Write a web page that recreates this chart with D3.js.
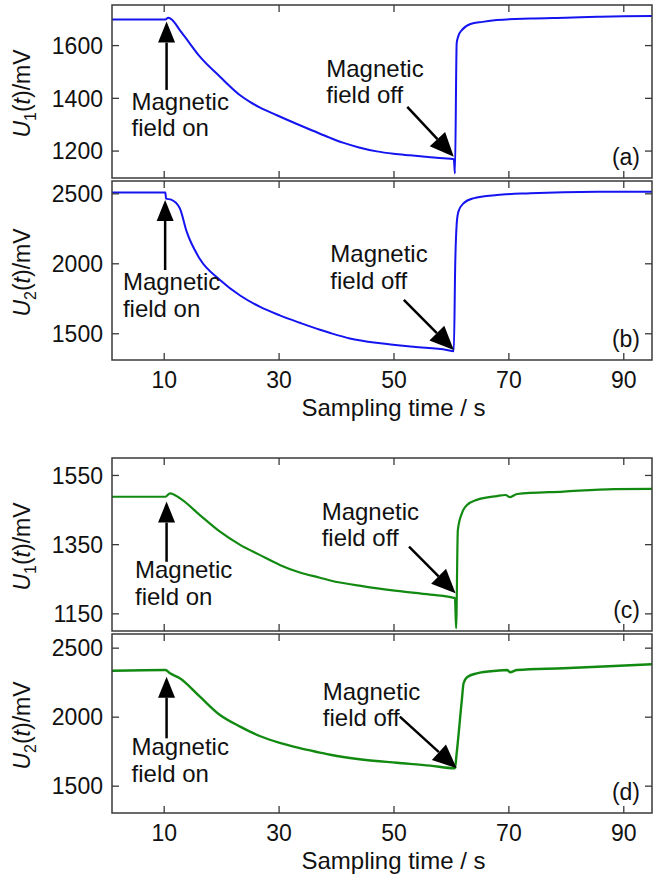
<!DOCTYPE html>
<html>
<head>
<meta charset="utf-8">
<script src="https://cdn.jsdelivr.net/npm/d3@7"></script>
<style>
  body { margin: 0; background: #fff; }
  text { font-family: "Liberation Sans", Arial, sans-serif; fill: #111; }
</style>
</head>
<body>
<svg id="chart" width="658" height="877"></svg>
<script>
// values: sampling time (s) and voltage (mV)
const tA = [1, 10.3, 10.8, 11.5, 12.8, 13.7, 16.3, 19.8, 23.3, 25, 26.7, 29.7, 33.7, 36, 39, 41.2, 44, 47.1, 50, 52.9, 56, 58.7, 60.5, 60.7, 61.0, 61.3, 61.9, 63.4, 65.5, 68, 73.8, 80, 85.5, 90, 95]
const uA = [1697, 1697, 1704, 1695, 1657, 1631, 1556, 1480, 1410, 1385, 1364, 1334, 1296, 1275, 1248, 1230, 1212, 1197, 1188, 1182, 1176, 1171, 1167, 1113, 1607, 1635, 1657, 1680, 1688, 1695, 1701, 1704, 1707, 1709, 1710]

const tB = [1, 10.3, 10.4, 11.3, 12.8, 14, 16.3, 19.8, 23.3, 26.7, 30.2, 33.7, 37.2, 39, 42.4, 47.7, 53.5, 59.3, 60.5, 60.75, 61.0, 61.3, 62.2, 63.9, 68, 73.8, 85.5, 95]
const uB = [2505, 2505, 2462, 2455, 2393, 2226, 2030, 1881, 1770, 1690, 1628, 1575, 1525, 1502, 1463, 1428, 1403, 1381, 1372, 2000, 2280, 2369, 2429, 2464, 2488, 2500, 2511, 2512]

const tC = [1, 10.3, 11.1, 12.8, 16.3, 19.8, 23.3, 26.7, 30.2, 33.7, 37.2, 39, 44.8, 50.6, 56.4, 60.7, 60.9, 61.2, 61.9, 62.8, 64.5, 68, 69.5, 70.3, 71.5, 79.6, 88.4, 95]
const uC = [1487, 1487, 1497, 1483, 1434, 1386, 1348, 1319, 1290, 1268, 1253, 1245, 1228, 1215, 1204, 1194, 1107, 1390, 1439, 1463, 1478, 1489, 1492, 1486, 1495, 1502, 1509, 1510]

const tD = [1, 10.3, 11.1, 12.8, 16.3, 19.8, 23.3, 26.7, 30.2, 33.7, 37.2, 39, 44.8, 50.6, 56.4, 60.7, 61.0, 61.9, 62.2, 62.8, 64.5, 68, 69.8, 70.3, 71.5, 79.6, 88.4, 95]
const uD = [2333, 2338, 2314, 2278, 2145, 2012, 1928, 1860, 1810, 1772, 1740, 1724, 1688, 1666, 1645, 1626, 1735, 2121, 2242, 2286, 2314, 2333, 2338, 2322, 2338, 2351, 2367, 2380]

// tick labels
const xTicks = [10, 30, 50, 70, 90]
const yTicksA = [1200, 1400, 1600]
const yTicksB = [1500, 2000, 2500]
const yTicksC = [1150, 1350, 1550]
const yTicksD = [1500, 2000, 2500]

const panelNames = ['(a)', '(b)', '(c)', '(d)']
const onText = ['Magnetic', 'field on']
const offText = ['Magnetic', 'field off']
const xTitle = 'Sampling time / s'

const blue = '#1414f0'
const green = '#128a12'
const axisColor = '#3a3a3a'

const svg = d3.select('#chart')

var x = d3.scaleLinear()
    .domain([1, 95])
    .range([112, 652])

// panel layout (positions in data units where they point at the curve)
var panels = [
    {t: tA, u: uA, ticks: yTicksA, domain: [1096, 1752], top: 5, bottom: 178, color: blue, width: 2, sub: '1', name: panelNames[0], xLabels: false,
     on: {t: 10.5, tip: 1689, tail: 1430, tt: 4.4, tv: 1354},
     off: {t1: 52.4, v1: 1366, t2: 60.5, v2: 1177, tt: 38.3, tv: 1480}},
    {t: tB, u: uB, ticks: yTicksB, domain: [1309, 2588], top: 181, bottom: 360, color: blue, width: 2, sub: '2', name: panelNames[1], xLabels: true,
     on: {t: 10.25, tip: 2452, tail: 1952, tt: 2.9, tv: 1809},
     off: {t1: 51.8, v1: 1738, t2: 60.5, v2: 1380, tt: 39.0, tv: 2007}},
    {t: tC, u: uC, ticks: yTicksC, domain: [1099, 1599], top: 458, bottom: 631, color: green, width: 2.2, sub: '1', name: panelNames[2], xLabels: false,
     on: {t: 10.5, tip: 1473, tail: 1299, tt: 5.0, tv: 1251},
     off: {t1: 52.7, v1: 1343, t2: 60.8, v2: 1208, tt: 37.5, tv: 1420}},
    {t: tD, u: uD, ticks: yTicksD, domain: [1302, 2599], top: 634, bottom: 813, color: green, width: 2.4, sub: '2', name: panelNames[3], xLabels: true,
     on: {t: 10.5, tip: 2290, tail: 1843, tt: 4.4, tv: 1722},
     off: {t1: 51.1, v1: 2000, t2: 61.0, v2: 1626, tt: 37.7, tv: 2121}}
]

// line with a filled triangular head at (x2, y2)
function arrow(g, x1, y1, x2, y2, len, half) {
    var dx = x2 - x1, dy = y2 - y1
    var d = Math.sqrt(dx * dx + dy * dy)
    var ux = dx / d, uy = dy / d
    var bx = x2 - ux * len, by = y2 - uy * len
    g.append('line')
        .attr('x1', x1).attr('y1', y1)
        .attr('x2', bx).attr('y2', by)
        .attr('stroke', '#000')
        .attr('stroke-width', 2.5)
    g.append('path')
        .attr('d', 'M' + x2 + ',' + y2 +
            'L' + (bx - uy * half) + ',' + (by + ux * half) +
            'L' + (bx + uy * half) + ',' + (by - ux * half) + 'Z')
        .attr('fill', '#000')
}

function twoLines(g, px, py, lines) {
    var txt = g.append('text')
        .attr('x', px).attr('y', py)
        .attr('font-size', 24)
    txt.append('tspan').attr('x', px).text(lines[0])
    txt.append('tspan').attr('x', px).attr('dy', 26.5).text(lines[1])
}

panels.forEach(function(p, i) {
    var y = d3.scaleLinear()
        .domain(p.domain)
        .range([p.bottom, p.top])

    var g = svg.append('g')

    g.append('clipPath')
        .attr('id', 'clip' + i)
        .append('rect')
        .attr('x', 112).attr('y', p.top)
        .attr('width', 540).attr('height', p.bottom - p.top)

    // curve
    g.append('path')
        .datum(d3.zip(p.t, p.u))
        .attr('clip-path', 'url(#clip' + i + ')')
        .attr('fill', 'none')
        .attr('stroke', p.color)
        .attr('stroke-width', p.width)
        .attr('stroke-linejoin', 'round')
        .attr('d', d3.line()
            .x(d => x(d[0]))
            .y(d => y(d[1]))
            .curve(d3.curveMonotoneX))

    // axes, ticks pointing inward on all four sides
    var left = g.append('g')
        .attr('transform', 'translate(112,0)')
        .call(d3.axisLeft(y).tickValues(p.ticks).tickSize(-7).tickPadding(9).tickFormat(d3.format('d')))
    var right = g.append('g')
        .attr('transform', 'translate(652,0)')
        .call(d3.axisRight(y).tickValues(p.ticks).tickSize(-7).tickFormat(''))
    var top = g.append('g')
        .attr('transform', 'translate(0,' + p.top + ')')
        .call(d3.axisTop(x).tickValues(xTicks).tickSize(-7).tickFormat(''))
    var bottom = g.append('g')
        .attr('transform', 'translate(0,' + p.bottom + ')')
        .call(d3.axisBottom(x).tickValues(xTicks).tickSize(-7).tickPadding(12)
            .tickFormat(p.xLabels ? d3.format('d') : ''))

    ;[left, right, top, bottom].forEach(function(a) {
        a.select('.domain').remove()
        a.selectAll('line').attr('stroke', axisColor).attr('stroke-width', 1.3)
        a.selectAll('text')
            .attr('font-size', 23)
            .attr('font-family', '"Liberation Sans", Arial, sans-serif')
            .attr('fill', '#111')
    })
    left.selectAll('text').attr('dy', '0.36em')

    // frame
    g.append('rect')
        .attr('x', 112).attr('y', p.top)
        .attr('width', 540).attr('height', p.bottom - p.top)
        .attr('fill', 'none')
        .attr('stroke', axisColor)
        .attr('stroke-width', 1.5)

    // y title: U_n(t)/mV
    var yt = g.append('text')
        .attr('transform', 'translate(30,' + ((p.top + p.bottom) / 2 + 2) + ') rotate(-90)')
        .attr('text-anchor', 'middle')
        .attr('font-size', 23)
    yt.append('tspan').attr('font-style', 'italic').text('U')
    yt.append('tspan').attr('font-size', 16).attr('dy', 6).text(p.sub)
    yt.append('tspan').attr('dy', -6).text('(')
    yt.append('tspan').attr('font-style', 'italic').text('t')
    yt.append('tspan').text(')/mV')

    // panel letter
    g.append('text')
        .attr('x', 640).attr('y', p.bottom - 13)
        .attr('text-anchor', 'end')
        .attr('font-size', 23)
        .text(p.name)

    // "field on" annotation
    arrow(g, x(p.on.t), y(p.on.tail), x(p.on.t), y(p.on.tip), 21, 8.5)
    twoLines(g, x(p.on.tt), y(p.on.tv), onText)

    // "field off" annotation
    arrow(g, x(p.off.t1), y(p.off.v1), x(p.off.t2), y(p.off.v2), 24, 10.5)
    twoLines(g, x(p.off.tt), y(p.off.tv), offText)

    // x title under (b) and (d)
    if (p.xLabels) {
        g.append('text')
            .attr('x', x(50))
            .attr('y', p.bottom + 56)
            .attr('text-anchor', 'middle')
            .attr('font-size', 24)
            .text(xTitle)
    }
})
</script>
</body>
</html>
